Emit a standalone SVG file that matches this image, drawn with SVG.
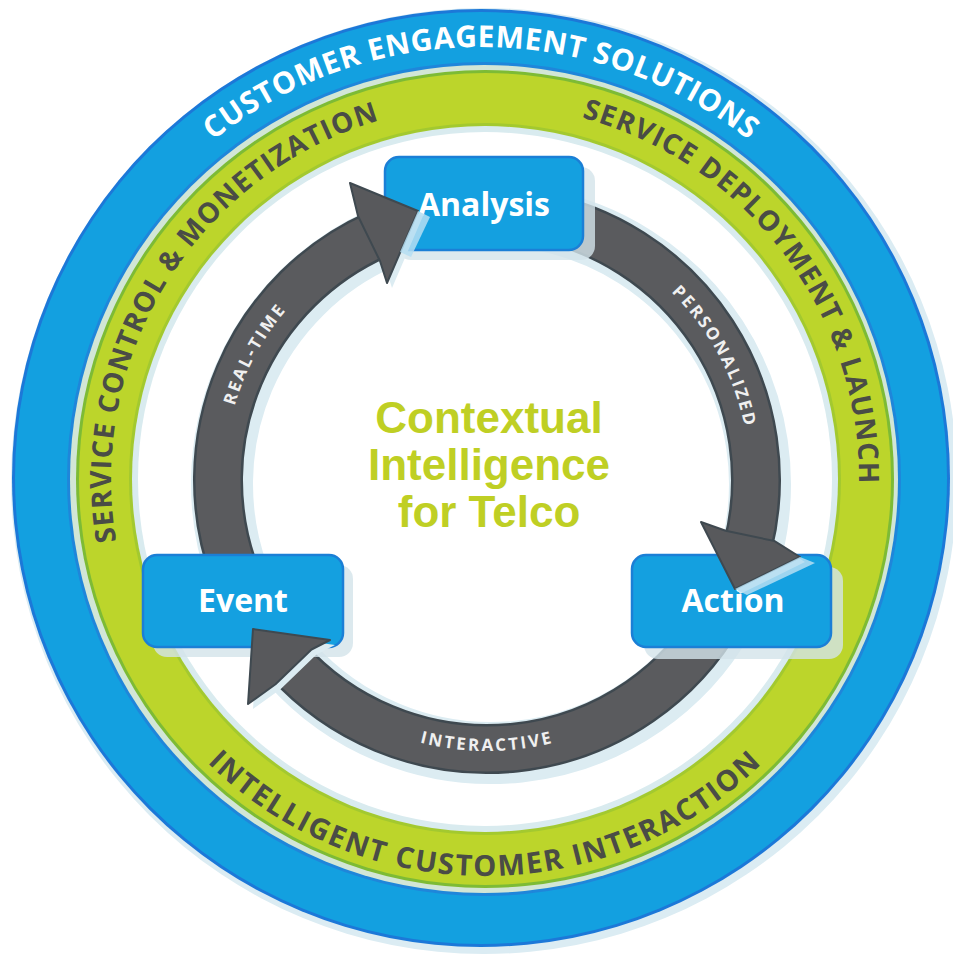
<svg xmlns="http://www.w3.org/2000/svg" width="953" height="954" viewBox="0 0 953 954">
  <defs>
    <style>
      .ring-blue{font-family:"Open Sans","DejaVu Sans",sans-serif;font-weight:700;font-size:30px;fill:#ffffff;letter-spacing:0.6px}
      .ring-green{font-family:"Open Sans","DejaVu Sans",sans-serif;font-weight:700;font-size:28px;fill:#4a4c46;letter-spacing:1.2px}
      .ring-green-bottom{font-family:"Open Sans","DejaVu Sans",sans-serif;font-weight:700;font-size:29px;fill:#4a4c46;letter-spacing:1.8px}
      .flow-label{font-family:"Open Sans","DejaVu Sans",sans-serif;font-weight:700;font-size:17px;fill:#f0f0f0;letter-spacing:2.5px}
      .node-box{fill:#14a0e0;stroke:#1b7fd6;stroke-width:2.5}
      .node-shadow{fill:#d3e4ea;opacity:0.8}
      .node-label{font-family:"Open Sans","DejaVu Sans",sans-serif;font-weight:700;font-size:32px;fill:#ffffff;text-anchor:middle}
      .title{font-family:"Liberation Sans",Arial,sans-serif;font-weight:700;font-size:44px;fill:#bfcf24;text-anchor:middle}
      .arc-halo{fill:none;stroke:#dcecf2;stroke-width:62}
      .arc-edge{fill:none;stroke:#3f4950;stroke-width:50}
      .arc-body{fill:none;stroke:#5a5b5e;stroke-width:45}
      .head{fill:#58595c;stroke:#3f4950;stroke-width:2;stroke-linejoin:round}
      .head-halo{fill:#dcecf2}
      .fold{fill:#b5def2;opacity:0.85}
    </style>
    <!-- text baselines -->
    <path id="blueArc" d="M 481 909 A 431 431 0 1 1 481 47 A 431 431 0 1 1 481 909"/>
    <path id="greenTop" d="M 485 853 A 374 374 0 1 1 485 105 A 374 374 0 1 1 485 853"/>
    <path id="greenBottom" d="M 485 82 A 397 397 0 1 0 485 876 A 397 397 0 1 0 485 82"/>
    <path id="flowCW" d="M 487 743 A 263 263 0 1 1 487 217 A 263 263 0 1 1 487 743"/>
    <path id="flowCCW" d="M 487 209 A 271 271 0 1 0 487 751 A 271 271 0 1 0 487 209"/>
  </defs>

  <rect width="953" height="954" fill="#ffffff"/>

  <!-- outer bands -->
  <g id="rings">
    <circle cx="484" cy="481" r="473" fill="#dbecf3"/>
    <circle cx="481" cy="478" r="469" fill="#1c78d8"/>
    <circle cx="481" cy="478" r="466" fill="#13a0e0"/>
    <circle cx="484" cy="479" r="417" fill="#1f86da"/>
    <circle cx="484" cy="479" r="414" fill="#d2e6d6"/>
    <circle cx="485" cy="479" r="409" fill="#7dbb35"/>
    <circle cx="485" cy="479" r="406" fill="#bcd52b"/>
    <circle cx="485" cy="479" r="356" fill="#a3c92f"/>
    <circle cx="485" cy="479" r="353" fill="#d9ebef"/>
    <circle cx="485" cy="479" r="347" fill="#ffffff"/>
  </g>

  <g id="ring-labels">
    <text class="ring-blue"><textPath href="#blueArc" startOffset="50%" text-anchor="middle">CUSTOMER ENGAGEMENT SOLUTIONS</textPath></text>
    <text class="ring-green"><textPath href="#greenTop" startOffset="33.9%" text-anchor="middle">SERVICE CONTROL &amp; MONETIZATION</textPath></text>
    <text class="ring-green"><textPath href="#greenTop" startOffset="64.7%" text-anchor="middle">SERVICE DEPLOYMENT &amp; LAUNCH</textPath></text>
    <text class="ring-green-bottom"><textPath href="#greenBottom" startOffset="50%" text-anchor="middle">INTELLIGENT CUSTOMER INTERACTION</textPath></text>
  </g>

  <!-- cycle arcs -->
  <g id="connectors">
    <g transform="translate(4,4)">
      <path class="arc-halo" d="M 234.2 572 A 269 269 0 0 1 377.6 234.3"/>
      <path class="arc-halo" d="M 533.7 215.1 A 269 269 0 0 1 748 545"/>
      <path class="arc-halo" d="M 720 614.5 A 269 269 0 0 1 287.1 660"/>
    </g>
    <path class="arc-edge" d="M 234.2 572 A 269 269 0 0 1 377.6 234.3"/>
    <path class="arc-body" d="M 234.2 572 A 269 269 0 0 1 377.6 234.3"/>
    <path class="arc-edge" d="M 533.7 215.1 A 269 269 0 0 1 748 545"/>
    <path class="arc-body" d="M 533.7 215.1 A 269 269 0 0 1 748 545"/>
    <path class="arc-edge" d="M 720 614.5 A 269 269 0 0 1 287.1 660"/>
    <path class="arc-body" d="M 720 614.5 A 269 269 0 0 1 287.1 660"/>
    <text class="flow-label"><textPath href="#flowCW" startOffset="32.9%" text-anchor="middle">REAL-TIME</textPath></text>
    <text class="flow-label"><textPath href="#flowCW" startOffset="67.1%" text-anchor="middle">PERSONALIZED</textPath></text>
    <text class="flow-label"><textPath href="#flowCCW" startOffset="50%" text-anchor="middle">INTERACTIVE</textPath></text>
  </g>

  <g id="node-analysis">
    <rect class="node-shadow" x="397" y="167" width="198" height="93" rx="14"/>
    <rect class="node-box" x="385" y="157" width="198" height="93" rx="14"/>
    <text class="node-label" x="484" y="216">Analysis</text>
  </g>

  <g id="node-event">
    <rect class="node-shadow" x="153" y="565" width="200" height="92" rx="14"/>
    <rect class="node-box" x="143" y="555" width="200" height="92" rx="14"/>
    <text class="node-label" x="243" y="612">Event</text>
  </g>

  <g id="node-action">
    <rect class="node-shadow" x="644" y="567" width="199" height="92" rx="14"/>
    <rect class="node-box" x="632" y="555" width="199" height="92" rx="14"/>
    <text class="node-label" x="733" y="612">Action</text>
  </g>

  <!-- arrowheads entering the nodes -->
  <g id="arrowheads">
    <g transform="translate(5,5)">
      <polygon class="head-halo" points="358,216 350,183 418,211 387,283 380,261"/>
      <polygon class="head-halo" points="725.7,530.7 701,522 735,589 800,557 774.6,541.1"/>
      <polygon class="head-halo" points="311.5,649.5 330,640 253,629 248,704 275.5,684.2"/>
    </g>
    <polygon class="head" points="358,216 350,183 418,211 387,283 380,261"/>
    <polygon class="fold" points="418,211 430,217 411,257 400,252"/>
    <polygon class="head" points="725.7,530.7 701,522 735,589 800,557 774.6,541.1"/>
    <polygon class="fold" points="735,589 800,557 815,563 747,595"/>
    <polygon class="head" points="311.5,649.5 330,640 253,629 248,704 275.5,684.2"/>
  </g>

  <g id="title">
    <text class="title" x="489" y="433">Contextual</text>
    <text class="title" x="489" y="480">Intelligence</text>
    <text class="title" x="489" y="527">for Telco</text>
  </g>
</svg>
